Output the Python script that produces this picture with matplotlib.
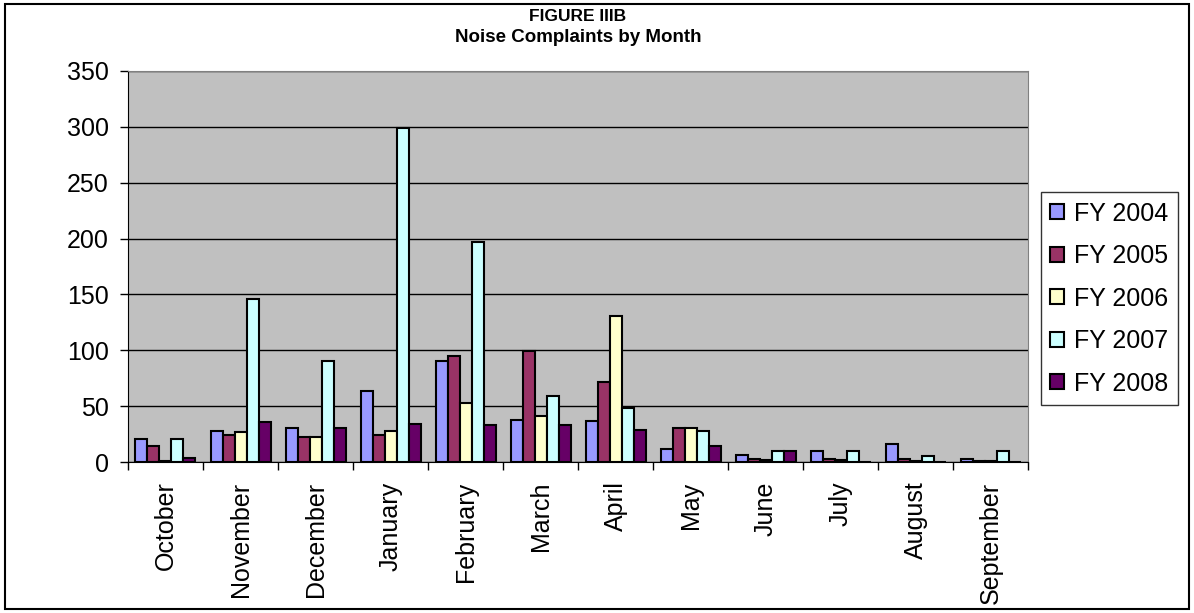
import numpy as np
import matplotlib.pyplot as plt
from matplotlib.patches import Rectangle

plt.rcParams['font.family'] = ['Liberation Sans', 'DejaVu Sans']

months = ["October", "November", "December", "January", "February", "March",
          "April", "May", "June", "July", "August", "September"]
series_names = ["FY 2004", "FY 2005", "FY 2006", "FY 2007", "FY 2008"]
fy2004 = [21, 28, 30, 64, 90, 38, 37, 12, 6, 10, 16, 3]
fy2005 = [14, 24, 22, 24, 95, 99, 72, 30, 3, 3, 3, 1]
fy2006 = [1, 27, 22, 28, 53, 41, 131, 30, 2, 2, 1, 1]
fy2007 = [21, 146, 90, 299, 197, 59, 48, 28, 10, 10, 5, 10]
fy2008 = [4, 36, 30, 34, 33, 33, 29, 14, 10, 0, 0, 0]
colors = ["#9999FF", "#993366", "#FFFFCC", "#CCFFFF", "#660066"]

all_series = [fy2004, fy2005, fy2006, fy2007, fy2008]

fig = plt.figure(figsize=(11.94, 6.13), dpi=100)
ax = fig.add_axes([0.1072, 0.2463, 0.7538, 0.638])
ax.set_facecolor("#C0C0C0")

x = np.arange(len(months))
w = 0.16
for i, (vals, name, c) in enumerate(zip(all_series, series_names, colors)):
    ax.bar(x + (i - 2) * w, vals, w, color=c, edgecolor="black", linewidth=1.5,
           label=name, zorder=3)

ax.set_xlim(-0.5, len(months) - 0.5)
ax.set_ylim(0, 350)
ax.set_yticks(range(0, 351, 50))
ax.grid(axis="y", color="black", linewidth=1, zorder=1)
ax.tick_params(axis="y", labelsize=18, direction="out", length=6, width=1, pad=8)

ax.set_xticks(np.arange(-0.5, len(months), 1))
ax.set_xticklabels([])
ax.tick_params(axis="x", which="major", direction="out", length=6, width=1)
ax.set_xticks(x, minor=True)
ax.set_xticklabels(months, minor=True, rotation=90, fontsize=18)
ax.tick_params(axis="x", which="minor", length=0, pad=14)

for side in ["top", "right"]:
    ax.spines[side].set_color("#808080")
ax.spines["left"].set_color("black")
ax.spines["bottom"].set_color("black")

fig.text(0.484, 0.973, "FIGURE IIIB", ha="center", va="center",
         fontsize=12.5, fontweight="bold")
fig.text(0.484, 0.939, "Noise Complaints by Month", ha="center", va="center",
         fontsize=13.5, fontweight="bold")

leg = ax.legend(loc="upper left", bbox_to_anchor=(1.0144, 0.69), fontsize=18,
                frameon=True, fancybox=False, edgecolor="black",
                handlelength=0.55, handleheight=0.55, handletextpad=0.4,
                labelspacing=0.74, borderpad=0.38, borderaxespad=0)
leg.get_frame().set_linewidth(1)

fig.patches.append(Rectangle((0.004, 0.006), 0.992, 0.988, transform=fig.transFigure,
                             fill=False, edgecolor="black", linewidth=1.5))

fig.savefig("out.png", dpi=100)
